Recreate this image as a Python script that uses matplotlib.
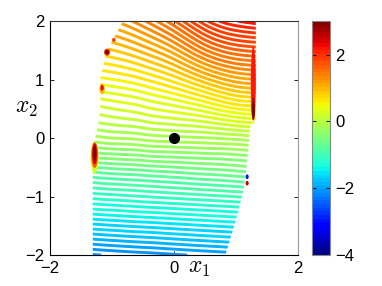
import numpy as np
import matplotlib
matplotlib.use("Agg")
import matplotlib.pyplot as plt
import matplotlib.tri as mtri
from matplotlib.patches import Polygon, Ellipse
from matplotlib.colors import Normalize
from matplotlib.cm import ScalarMappable

plt.rcParams["font.family"] = ["Liberation Sans", "DejaVu Sans"]
plt.rcParams["mathtext.fontset"] = "cm"

# level values on a coarse grid (rows: x2, cols: x1)
x1_grid = [-1.4, -1.0, -0.5, 0.0, 0.5, 1.0, 1.4]
x2_grid = [-2.0, -1.5, -1.0, -0.5, 0.0, 0.5, 1.0, 1.5, 2.0]
z_grid = [
    [-2.14, -2.11, -2.08, -2.05, -2.02, -1.99, -1.96],
    [-1.65, -1.62, -1.59, -1.56, -1.53, -1.50, -1.47],
    [-1.16, -1.13, -1.10, -1.07, -1.04, -1.01, -0.98],
    [-0.68, -0.65, -0.62, -0.59, -0.56, -0.53, -0.50],
    [-0.19, -0.16, -0.13, -0.10, -0.08, -0.05, -0.02],
    [0.14, 0.18, 0.24, 0.31, 0.40, 0.52, 0.55],
    [0.48, 0.52, 0.60, 0.73, 0.92, 1.08, 1.12],
    [0.82, 0.86, 0.98, 1.17, 1.45, 1.62, 1.66],
    [1.15, 1.20, 1.36, 1.62, 1.95, 2.14, 2.20],
]

# outline of the region where the level sets were computed
edge_x1 = [-1.31, -1.31, -1.31, -1.22, -1.19, -1.19, -1.10, -0.95, -0.82,
           1.32, 1.32, 1.23, 1.18, 1.12, 1.05, 0.97, 0.90, 0.83]
edge_x2 = [-2.0, -1.0, -0.2, 0.25, 0.5, 1.0, 1.45, 1.75, 2.0,
           2.0, 0.3, 0.2, -0.4, -0.9, -1.2, -1.5, -1.75, -2.0]

# spikes of the function at the region border (drawn big to small)
blob_x1 = [-1.28, -1.28, -1.28, -1.28, -1.16, -1.16, -1.08, -1.08, -0.97,
           1.28, 1.28, 1.28, 1.18, 1.18]
blob_x2 = [-0.33, -0.29, -0.27, -0.25, 0.84, 0.86, 1.47, 1.47, 1.68,
           0.95, 0.50, 0.48, -0.66, -0.77]
blob_w = [0.13, 0.11, 0.08, 0.05, 0.09, 0.05, 0.10, 0.06, 0.06,
          0.08, 0.06, 0.04, 0.05, 0.05]
blob_h = [0.55, 0.44, 0.36, 0.26, 0.18, 0.10, 0.12, 0.08, 0.07,
          1.25, 0.40, 0.25, 0.08, 0.08]
blob_z = [0.2, 1.6, 2.4, 3.0, 1.0, 2.3, 2.0, 3.0, 1.8,
          2.2, 2.6, 3.0, -3.0, 2.5]

equilibrium_x1 = [0.0]
equilibrium_x2 = [0.0]

z_min, z_max = -4, 3
n_levels = 83
cbar_ticks = [-4, -2, 0, 2]
x_ticks = [-2, 0, 2]
y_ticks = [-2, -1, 0, 1, 2]

cmap = plt.get_cmap("jet", 64)
norm = Normalize(vmin=z_min, vmax=z_max)

fig = plt.figure(figsize=(3.82, 2.86), dpi=100)
ax = fig.add_axes([0.131, 0.108, 0.649, 0.818])
cax = fig.add_axes([0.817, 0.108, 0.047, 0.818])

X, Y = np.meshgrid(x1_grid, x2_grid)
Z = np.array(z_grid).ravel()
tri = mtri.Triangulation(X.ravel(), Y.ravel())
interp = mtri.CubicTriInterpolator(tri, Z, kind="min_E")
tri_f, z_f = mtri.UniformTriRefiner(tri).refine_field(Z, triinterpolator=interp, subdiv=4)

levels = np.linspace(z_min, z_max, n_levels)
cs = ax.tricontour(tri_f, z_f, levels=levels, cmap=cmap, norm=norm, linewidths=2.1)
region = Polygon(np.column_stack([edge_x1, edge_x2]), closed=True, transform=ax.transData)
cs.set_clip_path(region)

for bx, by, bw, bh, bz in zip(blob_x1, blob_x2, blob_w, blob_h, blob_z):
    ax.add_patch(Ellipse((bx, by), bw, bh, color=cmap(norm(bz)), lw=0, zorder=3))

ax.plot(equilibrium_x1, equilibrium_x2, "o", color="black", ms=7, zorder=5)

ax.set_xlim(-2, 2)
ax.set_ylim(-2, 2)
ax.set_xticks(x_ticks)
ax.set_yticks(y_ticks)
ax.tick_params(direction="in", length=3, width=0.6, labelsize=12,
               top=True, right=True, pad=4)
for side in ax.spines:
    ax.spines[side].set_linewidth(0.8)
ax.spines["top"].set_color("#333333")
ax.spines["right"].set_color("#999999")

ax.text(0.60, -0.055, r"$x_1$", transform=ax.transAxes, fontsize=17,
        ha="center", va="center")
ax.text(-0.093, 0.63, r"$x_2$", transform=ax.transAxes, fontsize=17,
        ha="center", va="center")

sm = ScalarMappable(norm=norm, cmap=cmap)
cb = fig.colorbar(sm, cax=cax, ticks=cbar_ticks)
cb.outline.set_edgecolor("#888888")
cb.outline.set_linewidth(0.8)
cax.tick_params(direction="in", length=3, width=0.6, labelsize=12, left=True, right=True)

fig.savefig("out.png", dpi=100)
